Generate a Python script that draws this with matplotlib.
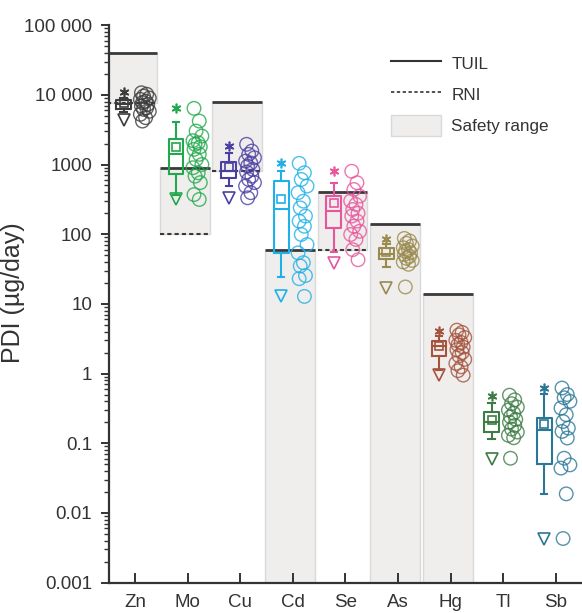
import numpy as np
import matplotlib
matplotlib.use('Agg')
import matplotlib.pyplot as plt
from matplotlib.lines import Line2D
from matplotlib.patches import Patch, Rectangle

plt.rcParams['font.family'] = ['Liberation Sans', 'DejaVu Sans']

# Elementos e estatisticas (µg/dia)
elementos = ['Zn', 'Mo', 'Cu', 'Cd', 'Se', 'As', 'Hg', 'Tl', 'Sb']
q3 = [8400, 2350, 1100, 577, 352, 64, 2.97, 0.277, 0.23]
mediana = [7400, 1400, 800, 232, 214, 52, 2.45, 0.199, 0.156]
q1 = [6300, 740, 646, 53, 124, 44, 1.77, 0.143, 0.0507]
media = [7700, 1800, 920, 323, 282, 56, 2.52, 0.218, 0.19]
whis_sup = [9100, 4100, 1475, 800, 548, 73, 3.5, 0.38, 0.51]
whis_inf = [5700, 360, 490, 24, 55, 34, 1.14, 0.115, 0.0188]
maximo = [11100, 6400, 1840, 1040, 800, 84, 4.1, 0.47, 0.62]
minimo = [4300, 315, 326, 12.8, 39, 17, 0.96, 0.059, 0.0043]

# Limites: TUIL (linha cheia) e RNI (tracejada)
tuil = [40000, 900, 8000, 60, 400, 140, 14, np.nan, np.nan]
rni = [7700, 100, 820, np.nan, 60, np.nan, np.nan, np.nan, np.nan]

# Pontos individuais
zn_pts = [10700, 10200, 9600, 9000, 8600, 8100, 7730, 7300, 6900, 6500, 6190, 5800, 5250, 4700, 4200]
mo_pts = [6400, 4200, 3020, 2560, 2200, 2050, 1950, 1800, 1650, 1400, 1180, 1000, 900, 760, 680, 550, 370, 315]
cu_pts = [1950, 1560, 1400, 1250, 1120, 1050, 950, 850, 780, 680, 610, 550, 490, 394, 333]
cd_pts = [1040, 762, 611, 490, 394, 298, 239, 182, 154, 130, 99, 71, 54, 39, 35, 25.5, 23, 12.8]
se_pts = [800, 548, 438, 352, 300, 267, 226, 200, 182, 154, 130, 110, 99, 84, 60, 43]
as_pts = [87, 80, 74, 68, 64, 60, 57, 54, 51, 48, 45, 42, 40, 37, 17.5]
hg_pts = [4.2, 3.9, 3.6, 3.3, 3.0, 2.8, 2.6, 2.4, 2.2, 2.0, 1.8, 1.6, 1.4, 1.25, 1.1, 0.95]
tl_pts = [0.49, 0.42, 0.37, 0.33, 0.3, 0.27, 0.24, 0.22, 0.2, 0.18, 0.16, 0.145, 0.13, 0.12, 0.061]
sb_pts = [0.62, 0.5, 0.45, 0.4, 0.32, 0.257, 0.205, 0.165, 0.148, 0.119, 0.061, 0.049, 0.044, 0.0188, 0.0043]
pontos = [zn_pts, mo_pts, cu_pts, cd_pts, se_pts, as_pts, hg_pts, tl_pts, sb_pts]

cores = ['#3c3c3c', '#22a84c', '#4a3fa2', '#1fb0e8', '#e8559c',
         '#9a8a4e', '#a5533c', '#3d7c44', '#2a7896']

fig = plt.figure(figsize=(5.82, 6.13), dpi=100)
ax = fig.add_axes([0.187, 0.0495, 0.813, 0.9095])
ax.set_yscale('log')
ax.set_ylim(0.001, 100000)
ax.set_xlim(-0.5, 8.5)

pos = np.arange(len(elementos))
y_base = 0.001

# Faixa de seguranca (cinza), TUIL e RNI
for i in range(len(elementos)):
    if np.isnan(tuil[i]):
        continue
    base = rni[i] if not np.isnan(rni[i]) else y_base
    ax.add_patch(Rectangle((pos[i] - 0.53, base), 0.95, tuil[i] - base,
                           facecolor='#efeeed', edgecolor='#d9d9d9', lw=1, zorder=0))
    ax.hlines(tuil[i], pos[i] - 0.53, pos[i] + 0.42, color='#3a3a3a', lw=2, zorder=1)
    if not np.isnan(rni[i]):
        ax.hlines(rni[i], pos[i] - 0.53, pos[i] + 0.42, color='#3a3a3a', lw=1.5,
                  linestyles=(0, (2, 1.5)), zorder=1)

# Boxplots
offs = [0.12, 0.22, 0.16, 0.27, 0.10, 0.20, 0.14, 0.24]
for i in range(len(elementos)):
    c = cores[i]
    stats = [dict(med=mediana[i], q1=q1[i], q3=q3[i], whislo=whis_inf[i],
                  whishi=whis_sup[i], mean=media[i], fliers=[])]
    ax.bxp(stats, positions=[pos[i] - 0.22], widths=0.28, showmeans=True,
           boxprops=dict(color=c, lw=1.5), medianprops=dict(color=c, lw=1.5),
           whiskerprops=dict(color=c, lw=1.5), capprops=dict(color=c, lw=1.5),
           capwidths=0.12,
           meanprops=dict(marker='s', markerfacecolor='none', markeredgecolor=c,
                          markersize=6, markeredgewidth=1.2), manage_ticks=False)
    ax.plot(pos[i] - 0.22, maximo[i], marker=(6, 2, 0), color=c, ms=7, mew=1.2)
    ax.plot(pos[i] - 0.22, minimo[i], marker='v', mfc='none', mec=c, ms=8, mew=1.2)
    xs = [pos[i] + offs[k % len(offs)] for k in range(len(pontos[i]))]
    ax.scatter(xs, pontos[i], s=95, facecolors='none', edgecolors=c,
               linewidths=1, alpha=0.8, zorder=3)

# Eixos
ax.spines['top'].set_visible(False)
ax.spines['right'].set_visible(False)
for s in ['left', 'bottom']:
    ax.spines[s].set_linewidth(1.6)
    ax.spines[s].set_color('#333333')

ax.set_yticks([1e5, 1e4, 1e3, 100, 10, 1, 0.1, 0.01, 0.001])
ax.set_yticklabels(['100 000', '10 000', '1000', '100', '10', '1', '0.1', '0.01', '0.001'])
ax.set_xticks(pos)
ax.set_xticklabels(elementos)
ax.tick_params(axis='y', which='major', direction='out', length=6, width=1.4,
               labelsize=13.5, pad=6, colors='#333333')
ax.tick_params(axis='y', which='minor', direction='out', length=3.5, width=1,
               colors='#333333')
ax.tick_params(axis='x', direction='in', length=7, width=1.4, labelsize=13.5,
               pad=8, colors='#333333')
ax.set_ylabel('PDI (µg/day)', fontsize=18, color='#333333')
ax.yaxis.set_label_coords(-0.178, 0.52)

# Legenda
handles = [Line2D([], [], color='#333333', lw=1.5),
           Line2D([], [], color='#333333', lw=1.2, ls=(0, (2, 1.5))),
           Patch(facecolor='#efeeed', edgecolor='#d9d9d9')]
ax.legend(handles, ['TUIL', 'RNI', 'Safety range'], loc='upper left',
          bbox_to_anchor=(0.579, 0.965), frameon=False, fontsize=12.3,
          handlelength=2.9, handleheight=1.5, labelspacing=0.6,
          handletextpad=0.6, borderpad=0, labelcolor='#333333')

fig.savefig('out.png', dpi=100)
